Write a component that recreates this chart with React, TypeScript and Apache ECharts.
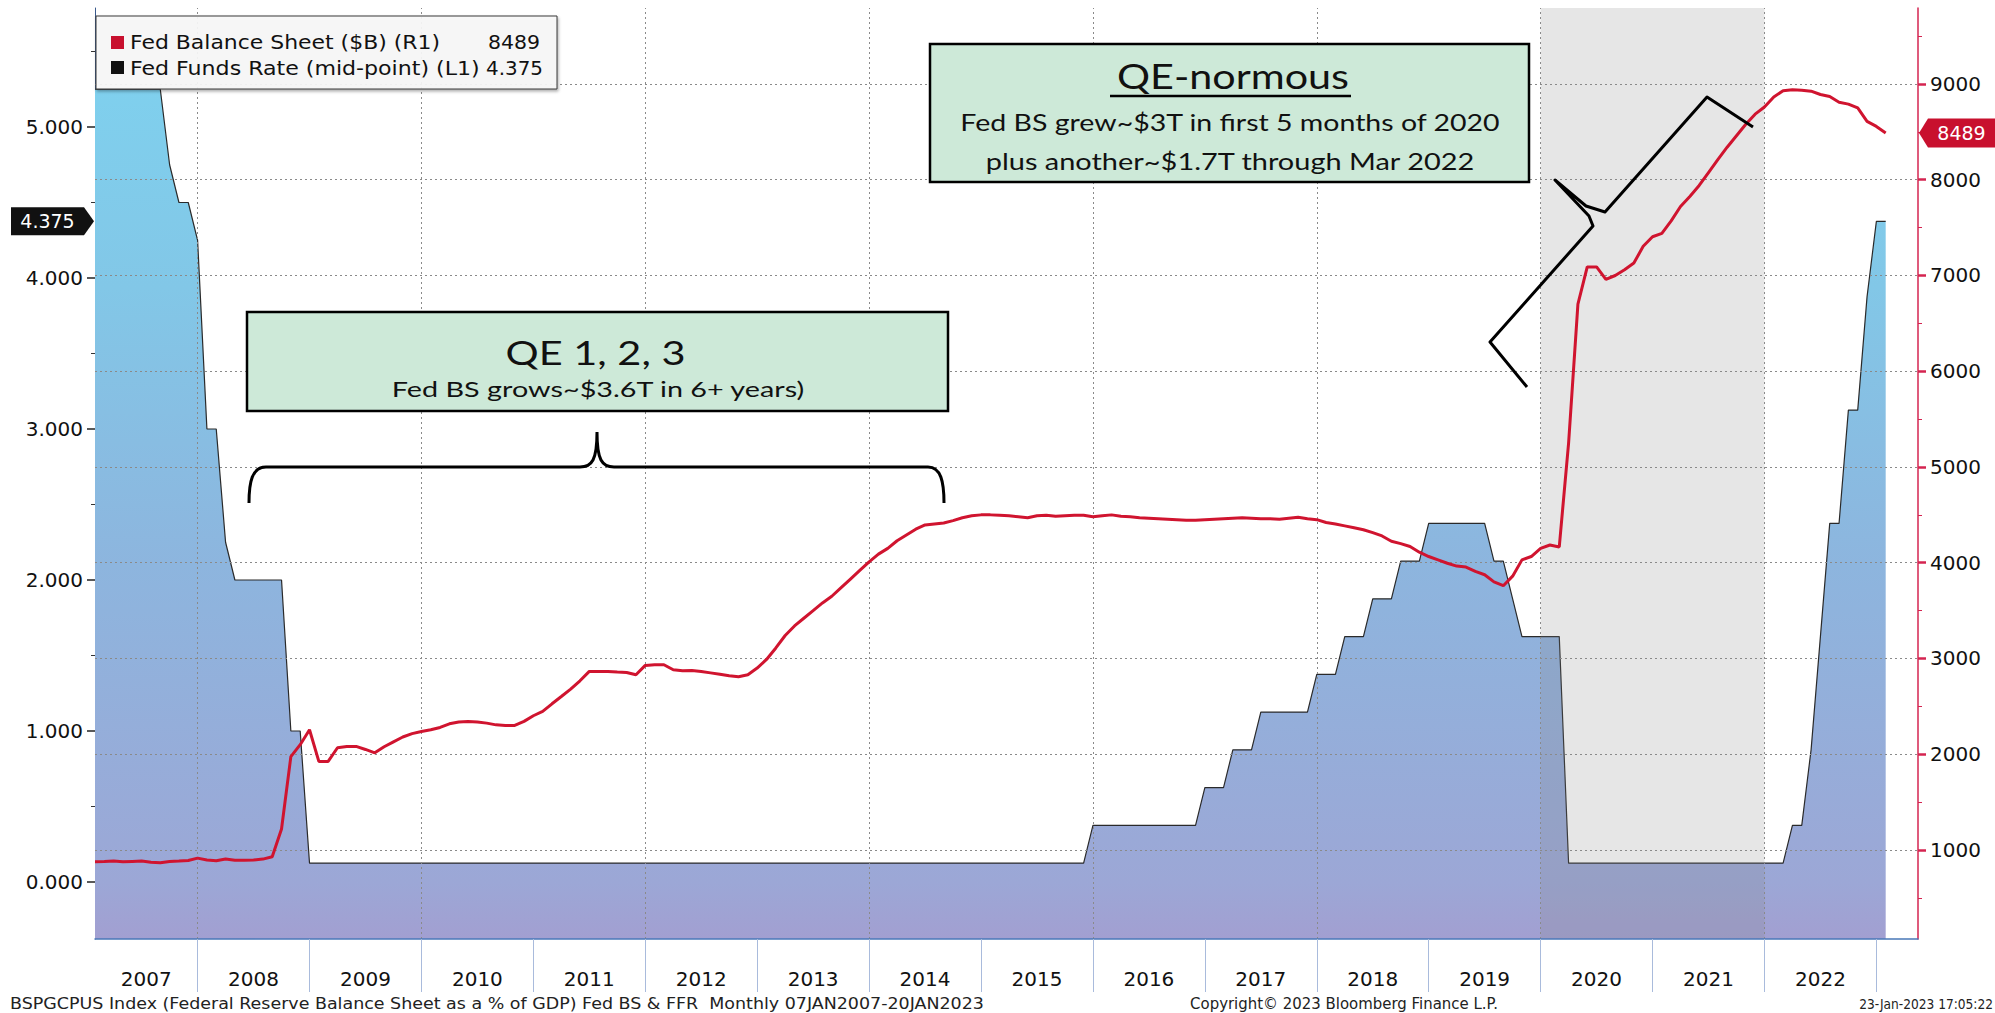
import React, { useEffect, useRef } from "react";
import * as echarts from "echarts";

// ---------------- DATA (monthly, month-end, Jan 2007 .. Jan 2023) ----------------
const START_YEAR = 2007;

// Fed Balance Sheet ($B) — right axis (R1)
const FED_BS: number[] = [
  878, 880, 885, 877, 881, 884, 872, 868, 879, 884, 891, 915, // 2007
  895, 888, 905, 892, 893, 896, 905, 930, 1220, 1975, 2100, 2256, // 2008
  1925, 1925, 2068, 2080, 2082, 2050, 2015, 2078, 2130, 2180, 2215, 2238, // 2009
  2256, 2280, 2318, 2336, 2343, 2336, 2325, 2307, 2301, 2301, 2343, 2402, // 2010
  2447, 2527, 2603, 2680, 2767, 2865, 2865, 2865, 2858, 2854, 2830, 2928, // 2011
  2935, 2935, 2882, 2872, 2875, 2865, 2850, 2835, 2820, 2810, 2830, 2900, // 2012
  2990, 3110, 3240, 3340, 3420, 3500, 3580, 3650, 3740, 3830, 3920, 4010, // 2013
  4090, 4150, 4230, 4290, 4350, 4395, 4405, 4415, 4440, 4470, 4490, 4500, // 2014
  4500, 4495, 4490, 4480, 4470, 4490, 4495, 4485, 4490, 4495, 4495, 4480, // 2015
  4490, 4500, 4485, 4480, 4470, 4465, 4460, 4455, 4450, 4445, 4445, 4450, // 2016
  4455, 4460, 4465, 4470, 4465, 4460, 4460, 4455, 4465, 4475, 4460, 4450, // 2017
  4420, 4405, 4385, 4365, 4345, 4315, 4280, 4225, 4200, 4170, 4110, 4065, // 2018
  4030, 3995, 3965, 3955, 3910, 3875, 3800, 3760, 3860, 4030, 4065, 4150, // 2019
  4185, 4165, 5250, 6700, 7090, 7090, 6960, 7000, 7060, 7130, 7305, 7405, // 2020
  7440, 7570, 7720, 7825, 7940, 8075, 8210, 8340, 8460, 8580, 8685, 8760, // 2021
  8865, 8930, 8940, 8935, 8925, 8890, 8870, 8810, 8790, 8750, 8610, 8557, // 2022
  8489, // 2023
];

// Fed Funds Rate (mid-point) — left axis (L1)
const FFR_MID: number[] = [
  5.25, 5.25, 5.25, 5.25, 5.25, 5.25, 5.25, 5.25, 4.75, 4.5, 4.5, 4.25, // 2007
  3.0, 3.0, 2.25, 2.0, 2.0, 2.0, 2.0, 2.0, 2.0, 1.0, 1.0, 0.125, // 2008
  0.125, 0.125, 0.125, 0.125, 0.125, 0.125, 0.125, 0.125, 0.125, 0.125, 0.125, 0.125, // 2009
  0.125, 0.125, 0.125, 0.125, 0.125, 0.125, 0.125, 0.125, 0.125, 0.125, 0.125, 0.125, // 2010
  0.125, 0.125, 0.125, 0.125, 0.125, 0.125, 0.125, 0.125, 0.125, 0.125, 0.125, 0.125, // 2011
  0.125, 0.125, 0.125, 0.125, 0.125, 0.125, 0.125, 0.125, 0.125, 0.125, 0.125, 0.125, // 2012
  0.125, 0.125, 0.125, 0.125, 0.125, 0.125, 0.125, 0.125, 0.125, 0.125, 0.125, 0.125, // 2013
  0.125, 0.125, 0.125, 0.125, 0.125, 0.125, 0.125, 0.125, 0.125, 0.125, 0.125, 0.125, // 2014
  0.125, 0.125, 0.125, 0.125, 0.125, 0.125, 0.125, 0.125, 0.125, 0.125, 0.125, 0.375, // 2015
  0.375, 0.375, 0.375, 0.375, 0.375, 0.375, 0.375, 0.375, 0.375, 0.375, 0.375, 0.625, // 2016
  0.625, 0.625, 0.875, 0.875, 0.875, 1.125, 1.125, 1.125, 1.125, 1.125, 1.125, 1.375, // 2017
  1.375, 1.375, 1.625, 1.625, 1.625, 1.875, 1.875, 1.875, 2.125, 2.125, 2.125, 2.375, // 2018
  2.375, 2.375, 2.375, 2.375, 2.375, 2.375, 2.125, 2.125, 1.875, 1.625, 1.625, 1.625, // 2019
  1.625, 1.625, 0.125, 0.125, 0.125, 0.125, 0.125, 0.125, 0.125, 0.125, 0.125, 0.125, // 2020
  0.125, 0.125, 0.125, 0.125, 0.125, 0.125, 0.125, 0.125, 0.125, 0.125, 0.125, 0.125, // 2021
  0.125, 0.125, 0.375, 0.375, 0.875, 1.625, 2.375, 2.375, 3.125, 3.125, 3.875, 4.375, // 2022
  4.375, // 2023
];

const YEAR_LABELS = [2007, 2008, 2009, 2010, 2011, 2012, 2013, 2014, 2015, 2016, 2017, 2018, 2019, 2020, 2021, 2022];
const YEAR_TICKS = [2008, 2009, 2010, 2011, 2012, 2013, 2014, 2015, 2016, 2017, 2018, 2019, 2020, 2021, 2022, 2023];
const GRID_YEARS = [2008, 2010, 2012, 2014, 2016, 2018, 2020, 2022];
const LEFT_TICKS = [0, 1, 2, 3, 4, 5];
const LEFT_MINOR = [0.5, 1.5, 2.5, 3.5, 4.5, 5.5];
const RIGHT_TICKS = [1000, 2000, 3000, 4000, 5000, 6000, 7000, 8000, 9000];
const RIGHT_MINOR = [500, 1500, 2500, 3500, 4500, 5500, 6500, 7500, 8500, 9500];
const SHADED_PERIOD = [2020, 2022];

const BS_NAME = "Fed Balance Sheet ($B) (R1)";
const FFR_NAME = "Fed Funds Rate (mid-point) (L1)";

// ---------------- layout ----------------
const W = 1995;
const H = 1013;
const X_MIN = START_YEAR + 1 / 12;
const X_MAX = 2023.372;
const L_MIN = -0.3775;
const L_MAX = 5.788;
const R_MIN = 70.5;
const R_MAX = 9793.7;

const BRACE_D =
  "M 249 503 C 249 482 252 467 266 467 L 580 467 C 592 467 597 460 597 432 C 597 460 602 467 614 467 L 928 467 C 941 467 944 482 944 503";
echarts.graphic.registerShape("qeBrace", echarts.graphic.extendPath(BRACE_D, {}));

const monthX = (i: number) => START_YEAR + (i + 1) / 12;

let measureCtx: CanvasRenderingContext2D | null = null;
function textWidth(text: string, size: number, family: string) {
  if (!measureCtx) measureCtx = document.createElement("canvas").getContext("2d");
  measureCtx!.font = `${size}px "${family}"`;
  return measureCtx!.measureText(text).width;
}
function fitText(
  text: string,
  x: number,
  y: number,
  size: number,
  family: string,
  targetW: number,
  align: "left" | "center" | "right" = "center",
  fill = "#111"
) {
  const w = textWidth(text, size, family) || targetW;
  return {
    type: "text",
    x,
    y,
    scaleX: targetW / w,
    z: 100,
    silent: true,
    style: { text, fontSize: size, fontFamily: family, fill, align, verticalAlign: "middle" },
  };
}

export default function App() {
  const ref = useRef<HTMLDivElement>(null);

  useEffect(() => {
    document.body.style.margin = "0";
    const chart = echarts.init(ref.current!, null, { renderer: "svg", width: W, height: H });

    const bsData = FED_BS.map((v, i) => [monthX(i), v]);
    const ffrData = FFR_MID.map((v, i) => [monthX(i), v]);

    const gradient = new echarts.graphic.LinearGradient(
      0, 8, 0, 939,
      [
        { offset: 0, color: "#7ed3f0" },
        { offset: 0.3, color: "#82c7e7" },
        { offset: 0.6, color: "#8db5de" },
        { offset: 0.94, color: "#9ca7d6" },
        { offset: 1, color: "#a29fd1" },
      ],
      true
    );

    const yearLabelValues = YEAR_LABELS.map((y) => (Math.max(y, X_MIN) + Math.min(y + 1, X_MAX)) / 2);

    const option: any = {
      animation: false,
      backgroundColor: "#ffffff",
      grid: { left: 95, right: 77, top: 8, bottom: 74 },
      xAxis: {
        type: "value",
        min: X_MIN,
        max: X_MAX,
        z: 7,
        axisLine: { show: true, onZero: false, lineStyle: { color: "#4a78b8", width: 1.5 } },
        axisTick: {
          show: true,
          customValues: YEAR_TICKS,
          length: 53,
          lineStyle: { color: "#a9bbdc", width: 1 },
        },
        axisLabel: {
          show: true,
          customValues: yearLabelValues,
          formatter: (v: number) => String(Math.floor(v + 1e-6)),
          margin: 30,
          fontSize: 20,
          fontFamily: "DejaVu Sans",
          color: "#111",
        },
        splitLine: { show: false },
      },
      yAxis: [
        {
          type: "value",
          position: "left",
          min: L_MIN,
          max: L_MAX,
          axisLine: { show: true, onZero: false, lineStyle: { color: "#3a5a8c", width: 1 } },
          axisTick: { show: true, customValues: LEFT_TICKS, length: 8, lineStyle: { color: "#222", width: 1.5 } },
          axisLabel: {
            show: true,
            customValues: LEFT_TICKS,
            formatter: (v: number) => v.toFixed(3),
            margin: 12,
            fontSize: 20,
            fontFamily: "DejaVu Sans",
            color: "#111",
          },
          splitLine: { show: false },
        },
        {
          type: "value",
          position: "right",
          min: R_MIN,
          max: R_MAX,
          axisLine: { show: true, onZero: false, lineStyle: { color: "#d42450", width: 1.5 } },
          axisTick: { show: true, customValues: RIGHT_TICKS, length: 8, lineStyle: { color: "#d42450", width: 2.5 } },
          axisLabel: {
            show: true,
            customValues: RIGHT_TICKS,
            formatter: (v: number) => String(v),
            margin: 12,
            fontSize: 20,
            fontFamily: "DejaVu Sans",
            color: "#111",
          },
          splitLine: { show: false },
        },
        {
          type: "value",
          position: "left",
          min: L_MIN,
          max: L_MAX,
          axisLine: { show: false, onZero: false },
          axisTick: { show: true, customValues: LEFT_MINOR, length: 4, lineStyle: { color: "#333", width: 1 } },
          axisLabel: { show: false },
          splitLine: { show: false },
        },
        {
          type: "value",
          position: "right",
          min: R_MIN,
          max: R_MAX,
          axisLine: { show: false, onZero: false },
          axisTick: { show: true, customValues: RIGHT_MINOR, length: 4, lineStyle: { color: "#d42450", width: 1 } },
          axisLabel: { show: false },
          splitLine: { show: false },
        },
      ],
      series: [
        {
          name: FFR_NAME,
          type: "line",
          xAxisIndex: 0,
          yAxisIndex: 0,
          data: ffrData,
          symbol: "none",
          showSymbol: false,
          z: 2,
          lineStyle: { color: "#2a2a2a", width: 1.2 },
          areaStyle: { origin: "start", color: gradient, opacity: 1 },
          silent: true,
        },
        {
          name: "grid",
          type: "line",
          xAxisIndex: 0,
          yAxisIndex: 1,
          data: [],
          symbol: "none",
          silent: true,
          markArea: {
            silent: true,
            z: 3,
            itemStyle: { color: "rgba(128,128,128,0.2)" },
            data: [[{ xAxis: SHADED_PERIOD[0] }, { xAxis: SHADED_PERIOD[1] }]],
          },
          markLine: {
            silent: true,
            z: 4,
            symbol: ["none", "none"],
            label: { show: false },
            lineStyle: { type: [2, 3], color: "#8a8a8a", width: 1 },
            data: [
              ...RIGHT_TICKS.map((v) => ({ yAxis: v })),
              ...GRID_YEARS.map((v) => ({ xAxis: v })),
            ],
          },
        },
        {
          name: BS_NAME,
          type: "line",
          xAxisIndex: 0,
          yAxisIndex: 1,
          data: bsData,
          symbol: "none",
          showSymbol: false,
          z: 6,
          lineStyle: { color: "#d0142f", width: 3 },
          silent: true,
        },
      ],
    };

    chart.setOption(option);

    const lastBS = FED_BS[FED_BS.length - 1];
    const lastFFR = FFR_MID[FFR_MID.length - 1];
    const yR = chart.convertToPixel({ yAxisIndex: 1 }, lastBS) as number;
    const yL = chart.convertToPixel({ yAxisIndex: 0 }, lastFFR) as number;
    const xR = chart.convertToPixel({ xAxisIndex: 0 }, X_MAX) as number;
    const xL = chart.convertToPixel({ xAxisIndex: 0 }, X_MIN) as number;

    const F = "DejaVu Sans";
    const C = "Lato";
    const graphic: any[] = [
      // legend
      {
        type: "rect",
        z: 100,
        shape: { x: 96, y: 16, width: 461, height: 73 },
        style: {
          fill: "rgba(250,250,250,0.9)",
          stroke: "#3a3a3a",
          lineWidth: 1,
          shadowBlur: 3,
          shadowOffsetX: 1,
          shadowOffsetY: 2,
          shadowColor: "rgba(0,0,0,0.35)",
        },
      },
      { type: "rect", z: 101, shape: { x: 111, y: 36, width: 13, height: 13 }, style: { fill: "#c8102e" } },
      { type: "rect", z: 101, shape: { x: 111, y: 61, width: 13, height: 13 }, style: { fill: "#111" } },
      fitText(BS_NAME, 130, 42.5, 20, F, 310, "left"),
      fitText(String(lastBS), 540, 42.5, 20, F, 52, "right"),
      fitText(FFR_NAME, 130, 67.5, 20, F, 350, "left"),
      fitText(lastFFR.toFixed(3), 543, 67.5, 20, F, 57, "right"),

      // QE 1,2,3 box
      {
        type: "rect",
        z: 100,
        shape: { x: 247, y: 312, width: 701, height: 99 },
        style: { fill: "#cde9d8", stroke: "#000", lineWidth: 2.5 },
      },
      fitText("QE 1, 2, 3", 595.5, 352, 33, C, 180),
      fitText("Fed BS grows~$3.6T in 6+ years)", 598, 388, 22, C, 414),
      { type: "qeBrace", z: 100, x: 0, y: 0, style: { fill: "none", stroke: "#000", lineWidth: 3 } },

      // QE-normous box
      {
        type: "rect",
        z: 100,
        shape: { x: 930, y: 44, width: 599, height: 138 },
        style: { fill: "#cde9d8", stroke: "#000", lineWidth: 2.5 },
      },
      fitText("QE-normous", 1233, 75, 35, C, 232),
      { type: "line", z: 101, shape: { x1: 1110, y1: 96, x2: 1351, y2: 96 }, style: { stroke: "#000", lineWidth: 2.5 } },
      fitText("Fed BS grew~$3T in first 5 months of 2020", 1230, 122, 24, C, 541),
      fitText("plus another~$1.7T through Mar 2022", 1230, 161, 24, C, 490),
      {
        type: "polyline",
        z: 100,
        shape: {
          points: [
            [1527, 387], [1490, 342], [1593, 226], [1589, 216], [1555, 180],
            [1586, 206], [1605, 212], [1707, 97], [1753, 127],
          ],
        },
        style: { fill: null, stroke: "#000", lineWidth: 3, lineJoin: "round" },
      },

      // last-value badges
      {
        type: "polygon",
        z: 100,
        shape: {
          points: [
            [xR + 1, yR], [xR + 10, yR - 14.5], [W, yR - 14.5], [W, yR + 14.5], [xR + 10, yR + 14.5],
          ],
        },
        style: { fill: "#c8102e" },
      },
      {
        type: "text",
        z: 101,
        x: (xR + 10 + W) / 2,
        y: yR,
        style: { text: String(lastBS), fontSize: 19, fontFamily: F, fill: "#fff", align: "center", verticalAlign: "middle" },
      },
      {
        type: "polygon",
        z: 100,
        shape: {
          points: [
            [11, yL - 14], [xL - 11, yL - 14], [xL - 1, yL], [xL - 11, yL + 14], [11, yL + 14],
          ],
        },
        style: { fill: "#111" },
      },
      {
        type: "text",
        z: 101,
        x: (11 + xL - 11) / 2,
        y: yL,
        style: { text: lastFFR.toFixed(3), fontSize: 19, fontFamily: F, fill: "#fff", align: "center", verticalAlign: "middle" },
      },

      // footer
      fitText(
        "BSPGCPUS Index (Federal Reserve Balance Sheet as a % of GDP) Fed BS & FFR  Monthly 07JAN2007-20JAN2023",
        10, 1004, 15, F, 975, "left", "#222"
      ),
      fitText("Copyright\u00A9 2023 Bloomberg Finance L.P.", 1344, 1004, 15, F, 308, "center", "#222"),
      fitText("23-Jan-2023 17:05:22", 1993, 1004, 14, F, 134, "right", "#222"),
    ];

    chart.setOption({ graphic });

    return () => {
      chart.dispose();
    };
  }, []);

  return (
    <div
      ref={ref}
      style={{ position: "fixed", left: 0, top: 0, width: W, height: H, background: "#fff" }}
    />
  );
}
